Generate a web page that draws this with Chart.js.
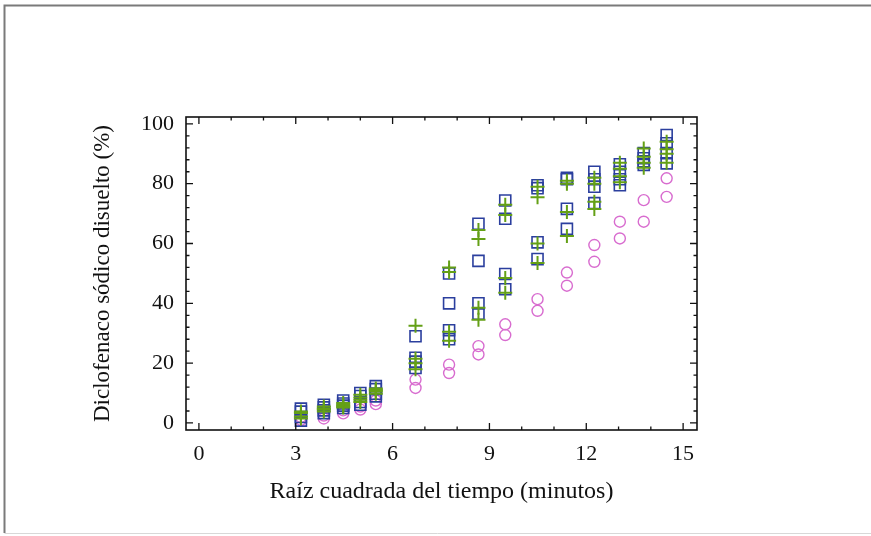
<!DOCTYPE html>
<html>
<head>
<meta charset="utf-8">
<script src="https://cdn.jsdelivr.net/npm/chart.js@4.4.1/dist/chart.umd.min.js"></script>
<style>
  html, body { margin: 0; padding: 0; background: #fff; }
  canvas { display: block; }
</style>
</head>
<body>
<canvas id="dissolutionChart" width="871" height="536"></canvas>
<script>
  // x = square root of time (minutes)
  const sqrtTime = [3.16, 3.87, 4.47, 5.00, 5.48, 6.71, 7.75, 8.66, 9.49, 10.49, 11.40, 12.25, 13.04, 13.78, 14.49];

  // blue squares (four replicates)
  const squares1 = [4.8, 6.1, 7.5, 10.0, 12.3, 29.0, 50.0, 66.6, 74.4, 79.5, 82.0, 84.0, 86.5, 90.2, 96.3];
  const squares2 = [3.8, 5.2, 6.5, 9.0, 11.3, 21.8, 40.0, 54.2, 68.3, 78.5, 81.5, 81.5, 84.0, 88.5, 93.5];
  const squares3 = [2.0, 4.2, 5.8, 7.0, 9.8, 20.5, 31.0, 40.0, 49.8, 60.4, 71.6, 79.0, 81.5, 87.5, 90.2];
  const squares4 = [0.8, 3.3, 5.0, 6.1, 8.9, 18.4, 28.0, 36.5, 44.7, 54.8, 64.9, 73.5, 79.5, 86.3, 86.8];

  // green crosses (four replicates)
  const crosses1 = [3.3, 5.5, 6.7, 9.4, 11.5, 32.5, 52.0, 64.5, 73.0, 79.0, 81.0, 82.0, 87.0, 91.8, 94.0];
  const crosses2 = [2.2, 4.5, 6.0, 8.5, 11.0, 21.5, 50.5, 61.5, 69.5, 75.5, 80.0, 80.0, 85.0, 89.0, 91.5];
  const crosses3 = [3.8, 4.8, 5.5, 7.8, 10.5, 20.0, 30.5, 38.5, 48.5, 60.0, 70.5, 74.0, 82.5, 87.0, 90.0];
  const crosses4 = [1.5, 3.8, 5.2, 7.0, 9.8, 18.0, 27.5, 34.5, 43.5, 53.5, 62.5, 71.5, 80.5, 85.3, 87.0];

  // pink circles (two replicates)
  const circles1 = [2.0, 2.5, 4.2, 5.5, 7.5, 14.5, 19.5, 25.7, 33.0, 41.4, 50.3, 59.5, 67.3, 74.5, 81.8];
  const circles2 = [1.0, 1.5, 3.2, 4.5, 6.3, 11.7, 16.7, 22.9, 29.4, 37.5, 45.9, 53.9, 61.7, 67.3, 75.6];

  const xTicks = [0, 3, 6, 9, 12, 15];
  const yTicks = [0, 20, 40, 60, 80, 100];

  function toPoints(...series) {
    const pts = [];
    series.forEach(s => s.forEach((v, i) => pts.push({ x: sqrtTime[i], y: v })));
    return pts;
  }

  const serif = "'Liberation Serif', 'DejaVu Serif', serif";

  // frame around the plot with inward ticks, plus the outer page border
  const frameAndTicks = {
    id: 'frameAndTicks',
    afterDraw(chart) {
      const ctx = chart.ctx;
      const a = chart.chartArea;
      const xs = chart.scales.x, ys = chart.scales.y;
      ctx.save();

      // outer border
      ctx.strokeStyle = '#7a7a7a';
      ctx.lineWidth = 2;
      ctx.beginPath();
      ctx.moveTo(871, 5.5); ctx.lineTo(4.5, 5.5); ctx.lineTo(4.5, 533);
      ctx.stroke();
      ctx.strokeStyle = '#d8d8d8';
      ctx.lineWidth = 1;
      ctx.beginPath();
      ctx.moveTo(4.5, 533.5); ctx.lineTo(871, 533.5);
      ctx.stroke();

      // plot frame
      ctx.strokeStyle = '#111';
      ctx.lineWidth = 1.6;
      ctx.strokeRect(a.left, a.top, a.right - a.left, a.bottom - a.top);

      ctx.lineWidth = 1.3;
      ctx.beginPath();
      for (let v = 0; v <= 15; v += 1) {
        const px = xs.getPixelForValue(v);
        const len = xTicks.includes(v) ? 7 : 3.5;
        ctx.moveTo(px, a.bottom); ctx.lineTo(px, a.bottom - len);
        ctx.moveTo(px, a.top); ctx.lineTo(px, a.top + len);
      }
      for (let v = 0; v <= 100; v += 4) {
        const py = ys.getPixelForValue(v);
        const len = yTicks.includes(v) ? 7 : 3.5;
        ctx.moveTo(a.left, py); ctx.lineTo(a.left + len, py);
        ctx.moveTo(a.right, py); ctx.lineTo(a.right - len, py);
      }
      ctx.stroke();
      ctx.restore();
    }
  };

  const ctx = document.getElementById('dissolutionChart').getContext('2d');
  new Chart(ctx, {
    type: 'scatter',
    data: {
      datasets: [
        {
          label: 'Cruces',
          data: toPoints(crosses1, crosses2, crosses3, crosses4),
          pointStyle: 'cross',
          pointRadius: 7,
          borderColor: '#64a016',
          borderWidth: 2,
          order: 0
        },
        {
          label: 'Cuadrados',
          data: toPoints(squares1, squares2, squares3, squares4),
          pointStyle: 'rect',
          pointRadius: 7.8,
          borderColor: '#2b3f9e',
          backgroundColor: 'rgba(0,0,0,0)',
          borderWidth: 1.6,
          order: 1
        },
        {
          label: 'Círculos',
          data: toPoints(circles1, circles2),
          pointStyle: 'circle',
          pointRadius: 5.5,
          borderColor: '#d86ccf',
          backgroundColor: 'rgba(0,0,0,0)',
          borderWidth: 1.4,
          order: 2
        }
      ]
    },
    options: {
      responsive: false,
      animation: false,
      layout: { padding: { left: 89, right: 174, top: 117, bottom: 28 } },
      plugins: {
        legend: { display: false },
        tooltip: { enabled: false }
      },
      scales: {
        x: {
          type: 'linear',
          min: -0.4,
          max: 15.43,
          afterBuildTicks: s => { s.ticks = xTicks.map(v => ({ value: v })); },
          afterFit: s => { s.height = 78; },
          grid: { display: false, drawTicks: false },
          border: { display: false },
          ticks: { color: '#111', padding: 11, font: { family: serif, size: 22 } },
          title: {
            display: true,
            text: 'Raíz cuadrada del tiempo (minutos)',
            color: '#111',
            padding: { top: 0, bottom: 2 },
            font: { family: serif, size: 24 }
          }
        },
        y: {
          type: 'linear',
          min: -2.35,
          max: 102.3,
          afterBuildTicks: s => { s.ticks = yTicks.map(v => ({ value: v })); },
          afterFit: s => { s.width = 97; },
          grid: { display: false, drawTicks: false },
          border: { display: false },
          ticks: { color: '#111', padding: 12, font: { family: serif, size: 22 } },
          title: {
            display: true,
            text: 'Diclofenaco sódico disuelto (%)',
            color: '#111',
            padding: 0,
            font: { family: serif, size: 23 }
          }
        }
      }
    },
    plugins: [frameAndTicks]
  });
</script>
</body>
</html>
